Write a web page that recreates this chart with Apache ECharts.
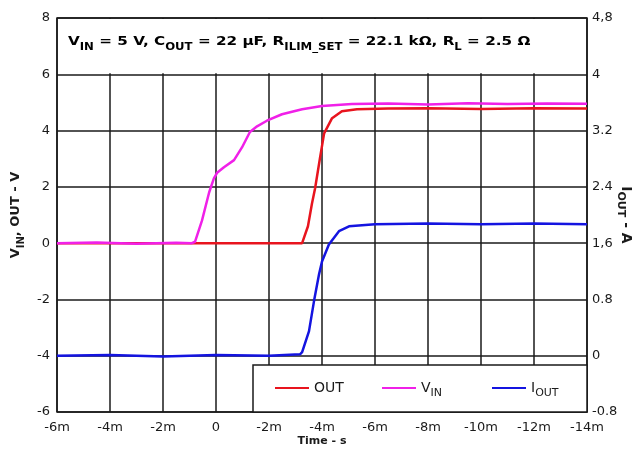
<!DOCTYPE html>
<html>
<head>
<meta charset="utf-8">
<script src="https://cdn.jsdelivr.net/npm/echarts@6/dist/echarts.min.js"></script>
<style>
  html, body { margin: 0; padding: 0; background: #fff; }
  #chart { width: 638px; height: 456px; }
</style>
</head>
<body>
<div id="chart"></div>
<script>
// Tick labels (as printed on the original)
const xTickLabels = ['-6m', '-4m', '-2m', '0', '-2m', '-4m', '-6m', '-8m', '-10m', '-12m', '-14m'];
const rightTickLabels = ['-0.8', '0', '0.8', '1,6', '2.4', '3.2', '4', '4,8'];

// Time in ms
const vinTime = [-6, -4.5, -3, -1.5, -0.91, -0.79, -0.53, -0.26, -0.08, 0.04, 0.3, 0.68, 0.98, 1.28, 1.55, 1.92, 2.49, 3.25, 4.0, 5.13, 6.5, 8, 9.5, 11, 12.5, 14];
const vinVals = [0, 0.02, -0.02, 0.01, 0, 0.05, 0.8, 1.8, 2.3, 2.5, 2.7, 2.95, 3.4, 3.95, 4.15, 4.35, 4.58, 4.76, 4.87, 4.94, 4.96, 4.93, 4.97, 4.94, 4.96, 4.95];

const outTime = [-6, -3, 0, 3.25, 3.32, 3.47, 3.62, 3.74, 3.92, 4.08, 4.38, 4.75, 5.32, 6.5, 8, 10, 12, 14];
const outVals = [0, 0, 0, 0, 0.05, 0.6, 1.4, 1.95, 3.0, 3.9, 4.44, 4.69, 4.76, 4.78, 4.79, 4.77, 4.79, 4.78];

const ioutTime = [-6, -4, -2, 0, 2, 3.17, 3.25, 3.51, 3.7, 3.89, 4.0, 4.26, 4.64, 5.02, 6.0, 8, 10, 12, 14];
const ioutVals = [0, 0.01, -0.01, 0.01, 0, 0.02, 0.05, 0.35, 0.78, 1.16, 1.34, 1.58, 1.77, 1.84, 1.87, 1.88, 1.87, 1.88, 1.87];

const zip = (t, v) => t.map((x, i) => [x, v[i]]);

const font = "'DejaVu Sans', Arial, sans-serif";
const ink = '#1a1a1a';

const chart = echarts.init(document.getElementById('chart'));

// main text + lowered subscript
const subRich = (size, weight) => ({
    m: { fontFamily: font, fontSize: size, color: ink, fontWeight: weight, lineHeight: Math.round(size * 1.6), verticalAlign: 'middle' },
    s: { fontFamily: font, fontSize: Math.round(size * 0.78), color: ink, fontWeight: weight, lineHeight: Math.round(size * 0.9), verticalAlign: 'bottom' }
});

const legendNames = {
    OUT: '{m|OUT}',
    VIN: '{m|V}{s|IN}',
    IOUT: '{m|I}{s|OUT}'
};

// one legend per entry so each sits where the original put it
const legendAt = (name, left) => ({
    z: 20, left: left, top: 376,
    icon: 'rect', itemWidth: 34, itemHeight: 2,
    data: [name],
    formatter: n => legendNames[n],
    textStyle: { rich: subRich(14, 'normal') }
});

chart.setOption({
    backgroundColor: '#fff',
    animation: false,
    grid: {
        left: 57, right: 51, top: 18, bottom: 44,
        outerBoundsMode: 'none',
        show: true, borderColor: ink, borderWidth: 1.5
    },
    xAxis: {
        type: 'value', min: -6, max: 14, interval: 2,
        name: 'Time - s', nameLocation: 'middle', nameGap: 24, nameMoveOverlap: false,
        nameTextStyle: { fontFamily: font, fontSize: 11, fontWeight: 'bold', color: ink },
        axisLine: { show: false },
        axisTick: { show: false },
        axisLabel: {
            fontFamily: font, fontSize: 13, color: ink, margin: 9,
            formatter: v => xTickLabels[Math.round((v + 6) / 2)]
        },
        splitLine: { lineStyle: { color: ink, width: 1.5 } }
    },
    yAxis: [{
        type: 'value', min: -6, max: 8, interval: 2,
        name: '{m|V}{s|IN}{m|, OUT - V}', nameLocation: 'middle', nameGap: 31, nameMoveOverlap: false,
        nameTextStyle: { rich: subRich(13, 'bold') },
        axisLine: { show: false },
        axisTick: { show: false },
        axisLabel: { fontFamily: font, fontSize: 13, color: ink, margin: 7 },
        splitLine: { lineStyle: { color: ink, width: 1.5 } }
    }, {
        type: 'value', min: -0.8, max: 4.8, interval: 0.8, position: 'right',
        name: '{m|I}{s|OUT}{m| - A}', nameLocation: 'middle', nameGap: 28, nameRotate: -90, nameMoveOverlap: false,
        nameTextStyle: { rich: subRich(14, 'bold') },
        axisLine: { show: false },
        axisTick: { show: false },
        axisLabel: {
            fontFamily: font, fontSize: 13, color: ink, margin: 5,
            formatter: v => rightTickLabels[Math.round((v + 0.8) / 0.8)]
        },
        splitLine: { show: false }
    }],
    legend: [legendAt('OUT', 270), legendAt('VIN', 377), legendAt('IOUT', 487)],
    series: [{
        name: 'OUT', type: 'line', yAxisIndex: 0, symbol: 'none',
        data: zip(outTime, outVals),
        lineStyle: { color: '#e8141e', width: 2.5 }, itemStyle: { color: '#e8141e' }, z: 3
    }, {
        name: 'VIN', type: 'line', yAxisIndex: 0, symbol: 'none',
        data: zip(vinTime, vinVals),
        lineStyle: { color: '#f020e8', width: 2.5 }, itemStyle: { color: '#f020e8' }, z: 4
    }, {
        name: 'IOUT', type: 'line', yAxisIndex: 1, symbol: 'none',
        data: zip(ioutTime, ioutVals),
        lineStyle: { color: '#1414e0', width: 2.5 }, itemStyle: { color: '#1414e0' }, z: 5
    }]
});

// white band above the 6 V line, legend box, and the condition text
const tl = chart.convertToPixel({ xAxisIndex: 0, yAxisIndex: 0 }, [-6, 8]);
const br6 = chart.convertToPixel({ xAxisIndex: 0, yAxisIndex: 0 }, [14, 6]);
const br = chart.convertToPixel({ xAxisIndex: 0, yAxisIndex: 0 }, [14, -6]);

chart.setOption({
    graphic: [{
        type: 'rect', z: 1, silent: true,
        shape: { x: tl[0] + 1, y: tl[1] + 1, width: br6[0] - tl[0] - 2, height: br6[1] - tl[1] - 2 },
        style: { fill: '#fff' }
    }, {
        type: 'rect', z: 10, silent: true,
        shape: { x: 253, y: 365, width: br[0] - 253, height: br[1] - 365 },
        style: { fill: '#fff', stroke: ink, lineWidth: 1.5 }
    }, {
        type: 'text', z: 11, x: 68, y: 31, scaleX: 1.17,
        style: {
            text: '{m|V}{s|IN}{m| = 5 V, C}{s|OUT}{m| = 22 µF, R}{s|ILIM_SET}{m| = 22.1 kΩ, R}{s|L}{m| = 2.5 Ω}',
            rich: subRich(13, 'bold')
        }
    }]
});
</script>
</body>
</html>
